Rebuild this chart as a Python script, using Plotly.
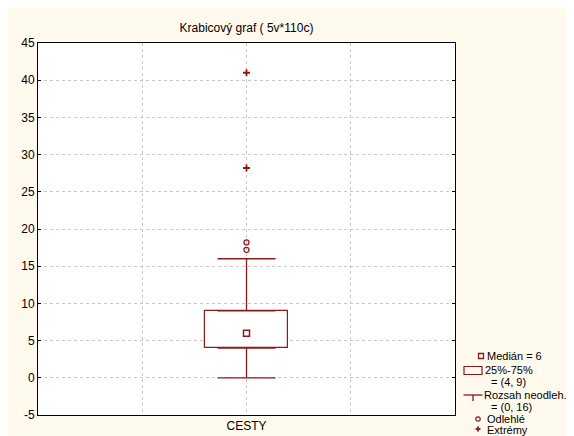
import plotly.graph_objects as go

# ---- data ----
categories = ["CESTY"]
cat_pos = [2]
q1 = [4]
median = [6]
q3 = [9]
lower_fence = [0]
upper_fence = [16]
outliers = [17.2, 18.2]
extremes = [28.2, 41.0]
y_ticks = [-5, 0, 5, 10, 15, 20, 25, 30, 35, 40, 45]
title_text = "Krabicový graf ( 5v*110c)"

RED = "#8b1a1a"
FONT = "Liberation Sans, Arial, sans-serif"

OFF = 8  # browser body margin
FW, FH = 574 - OFF, 436 - OFF
# plot area in page px
L, R, T, B = 38, 455, 43, 415
W, H = R - L, B - T
def px(x): return (x - L) / W
def py(y): return (B - y) / H

fig = go.Figure()

# box body (q1..q3)
fig.add_trace(go.Bar(
    x=cat_pos, base=q1, y=[b - a for a, b in zip(q1, q3)], width=0.8,
    marker=dict(color="white", line=dict(color=RED, width=1.2)),
    showlegend=False, hoverinfo="skip"))

# whiskers as error bars from box edges
fig.add_trace(go.Scatter(
    x=cat_pos * 2, y=q3 + q1, mode="markers",
    marker=dict(size=1, color="rgba(0,0,0,0)"),
    error_y=dict(type="data", symmetric=False,
                 array=[upper_fence[0] - q3[0], 0],
                 arrayminus=[0, q1[0] - lower_fence[0]],
                 color=RED, thickness=1.3, width=29),
    showlegend=False, hoverinfo="skip"))

# median marker
fig.add_trace(go.Scatter(
    x=cat_pos, y=median, mode="markers",
    marker=dict(symbol="square-open", size=6, color=RED, line=dict(width=1.5)),
    showlegend=False))

# outliers
fig.add_trace(go.Scatter(
    x=cat_pos * len(outliers), y=outliers, mode="markers",
    marker=dict(symbol="circle-open", size=5, color=RED, line=dict(width=1.3)),
    showlegend=False))

# extremes
fig.add_trace(go.Scatter(
    x=cat_pos * len(extremes), y=extremes, mode="markers",
    marker=dict(symbol="cross-thin", size=5, color=RED, line=dict(width=1.8, color=RED)),
    showlegend=False))

# legend icons (pixel-sized shapes)
def pshape(kind, cx, cy, x0, x1, y0, y1, **kw):
    d = dict(type=kind, xref="paper", yref="paper", xsizemode="pixel", ysizemode="pixel",
             xanchor=px(cx), yanchor=py(cy), x0=x0, x1=x1, y0=y0, y1=y1)
    d.update(kw)
    return d

shapes = [
    pshape("rect", 481, 356, -2.5, 2.5, -2.5, 2.5, line=dict(color=RED, width=1.3)),
    pshape("rect", 473, 370.5, -9, 9, -4, 4, line=dict(color=RED, width=1.2)),
    pshape("line", 473, 395, -9.5, 9.5, 0, 0, line=dict(color=RED, width=1.3)),
    pshape("line", 473, 395, 0, 0, 0, -6, line=dict(color=RED, width=1.3)),
    pshape("circle", 478, 419, -2.2, 2.2, -2.2, 2.2, line=dict(color=RED, width=1.2)),
    pshape("line", 478, 429, -2.5, 2.5, 0, 0, line=dict(color=RED, width=1.8)),
    pshape("line", 478, 429, 0, 0, -2.5, 2.5, line=dict(color=RED, width=1.8)),
]

legend_texts = [
    (f"Medián = {median[0]}", 486, 356),
    ("25%-75%", 484, 370),
    (f"= ({q1[0]}, {q3[0]})", 490, 382),
    ("Rozsah neodleh.", 483, 394.5),
    (f"= ({lower_fence[0]}, {upper_fence[0]})", 490, 407),
    ("Odlehlé", 486, 419),
    ("Extrémy", 486, 430),
]
annotations = [
    dict(text=t, xref="paper", yref="paper", x=px(x), y=py(y), xanchor="left", yanchor="middle",
         showarrow=False, font=dict(family=FONT, size=11, color="black"), borderpad=0)
    for t, x, y in legend_texts
]

fig.update_layout(
    width=FW, height=FH,
    margin=dict(l=L - OFF, r=FW - (R - OFF), t=T - OFF, b=FH - (B - OFF), autoexpand=False),
    paper_bgcolor="#fff9ee", plot_bgcolor="white",
    font=dict(family=FONT, size=12, color="black"),
    title=dict(text=title_text, x=0.5, xref="paper", xanchor="center",
               y=1 - (28 - OFF) / FH, yanchor="middle", font=dict(family=FONT, size=12)),
    shapes=shapes, annotations=annotations,
    showlegend=False, bargap=0,
)
fig.update_xaxes(range=[0, 4], tickvals=[1, 2, 3], ticktext=["", categories[0], ""],
                 showgrid=True, gridcolor="#c8c8c8", griddash="3px,3px", gridwidth=1,
                 showline=True, linecolor="black", linewidth=1, mirror=True,
                 ticks="", zeroline=False, tickfont=dict(size=12), automargin=False)
fig.update_yaxes(range=[-5, 45], tickvals=y_ticks, ticktext=[str(v) for v in y_ticks],
                 showgrid=True, gridcolor="#c8c8c8", griddash="3px,3px", gridwidth=1,
                 showline=True, linecolor="black", linewidth=1, mirror="ticks",
                 ticks="inside", ticklen=3, tickcolor="black", zeroline=False,
                 tickfont=dict(size=12), automargin=False)

fig.write_html("out.html")
